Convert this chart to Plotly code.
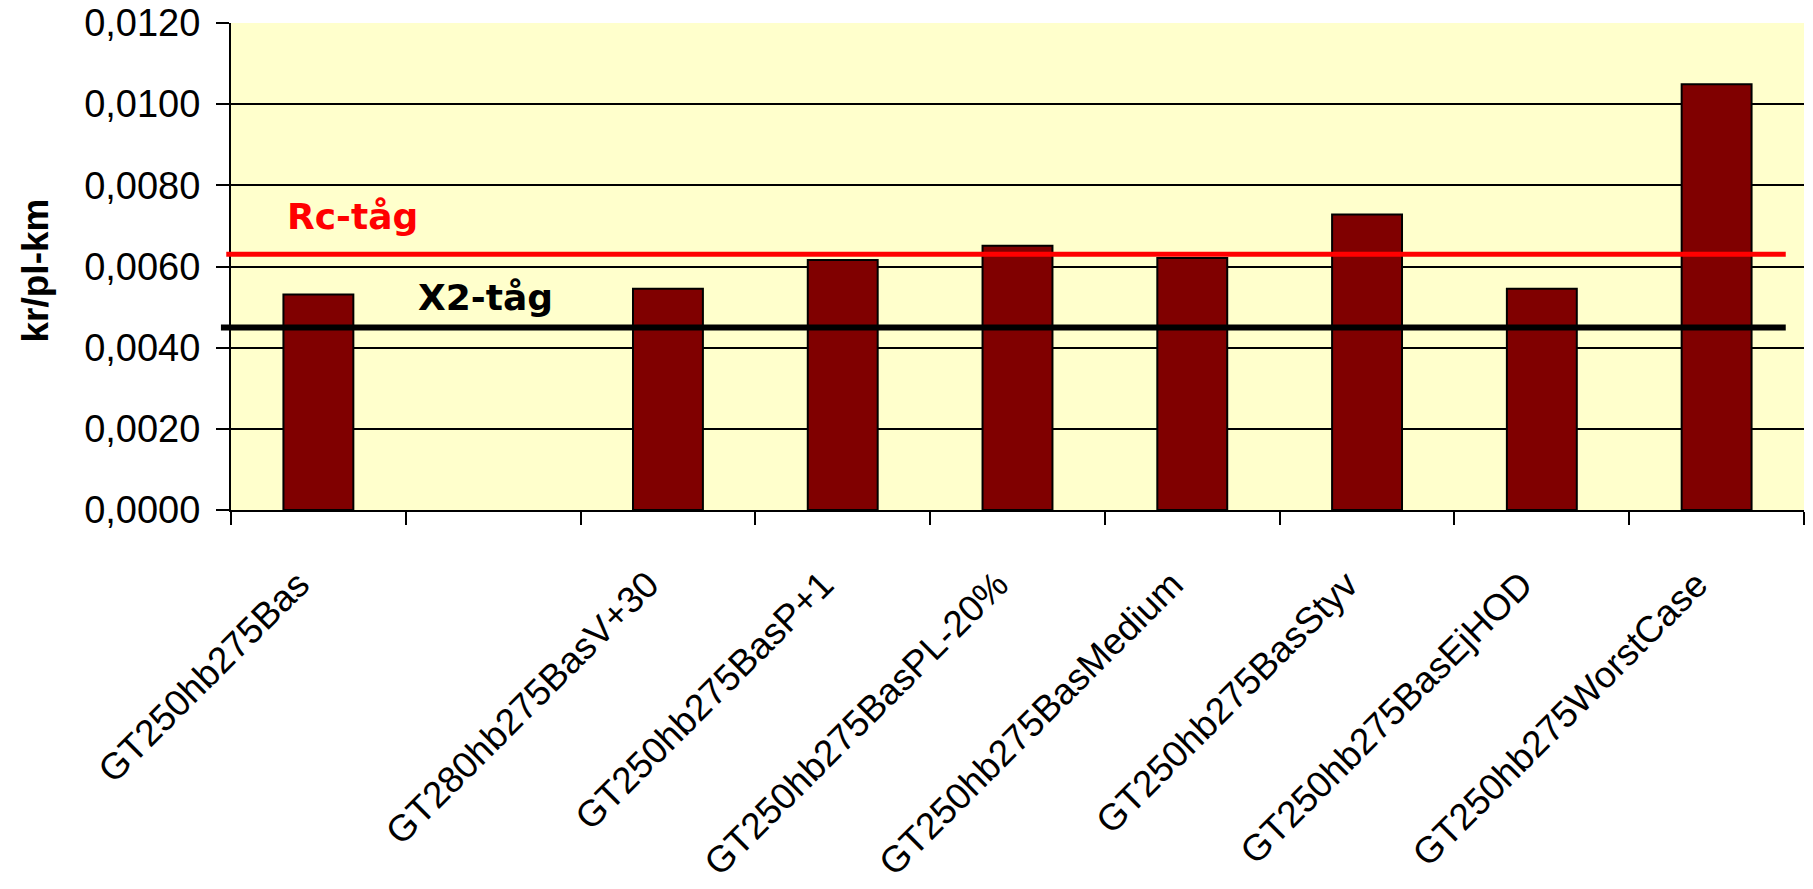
import plotly.graph_objects as go

# Cost per passenger-km for each scenario (the second slot is an empty category)
categories = [
    "GT250hb275Bas",
    " ",
    "GT280hb275BasV+30",
    "GT250hb275BasP+1",
    "GT250hb275BasPL-20%",
    "GT250hb275BasMedium",
    "GT250hb275BasStyv",
    "GT250hb275BasEjHOD",
    "GT250hb275WorstCase",
]
cost_per_pkm = [0.00531, None, 0.00545, 0.00616, 0.00651, 0.00621, 0.00728, 0.00545, 0.01049]

# Reference levels for comparison trains
rc_level = 0.0063
x2_level = 0.0045
rc_label = "Rc-tåg"
x2_label = "X2-tåg"

y_ticks = [0.0, 0.002, 0.004, 0.006, 0.008, 0.010, 0.012]
y_title = "kr/pl-km"

Y_TICK_FONT = dict(family="Liberation Sans, Arial, sans-serif", size=38, color="black")
X_TICK_FONT = dict(family="Liberation Sans, Arial, sans-serif", size=37, color="black")
NOTE_FONT = "DejaVu Sans, Verdana, sans-serif"

fig = go.Figure()
fig.add_trace(
    go.Bar(
        x=categories,
        y=cost_per_pkm,
        marker=dict(color="#800000", line=dict(color="black", width=2)),
        showlegend=False,
    )
)

# Horizontal comparison lines
fig.add_shape(type="line", xref="paper", yref="y", x0=-0.003, x1=0.9884,
              y0=rc_level, y1=rc_level, line=dict(color="#FF0000", width=5))
fig.add_shape(type="line", xref="paper", yref="y", x0=-0.0064, x1=0.9884,
              y0=x2_level, y1=x2_level, line=dict(color="black", width=6))

fig.add_annotation(text="<b>" + rc_label + "</b>", xref="paper", yref="y",
                   x=0.0345, y=0.00724, xanchor="left", yanchor="middle",
                   showarrow=False, font=dict(family=NOTE_FONT, size=36, color="#FF0000"))
fig.add_annotation(text="<b>" + x2_label + "</b>", xref="paper", yref="y",
                   x=0.1178, y=0.00524, xanchor="left", yanchor="middle",
                   showarrow=False, font=dict(family=NOTE_FONT, size=36, color="black"))

# Y axis title
fig.add_annotation(text="<b>" + y_title + "</b>", xref="paper", yref="paper",
                   x=(35 - 230.7) / 1573.3, y=(510 - 270) / 487.3,
                   xanchor="center", yanchor="middle", textangle=-90,
                   showarrow=False,
                   font=dict(family="Liberation Sans, Arial, sans-serif", size=37, color="black"))

fig.update_layout(
    width=1813,
    height=889,
    autosize=False,
    margin=dict(l=231, r=9, t=23, b=379, autoexpand=False),
    paper_bgcolor="white",
    plot_bgcolor="#FFFFCC",
    separators=", ",
    bargap=0.6,
    font=Y_TICK_FONT,
)

fig.update_xaxes(
    type="category",
    categoryorder="array",
    categoryarray=categories,
    tickson="boundaries",
    ticks="outside",
    ticklen=13,
    tickwidth=2,
    tickcolor="black",
    tickangle=-45,
    tickfont=X_TICK_FONT,
    showline=True,
    linecolor="black",
    linewidth=2,
    showgrid=False,
    automargin=False,
    ticklabelstandoff=36,
    ticklabelshift=-20,
)

fig.update_yaxes(
    range=[0, 0.012],
    tickvals=y_ticks,
    tickformat=".4f",
    ticks="outside",
    ticklen=13,
    tickwidth=2,
    tickcolor="black",
    tickfont=Y_TICK_FONT,
    showline=True,
    linecolor="black",
    linewidth=2,
    showgrid=True,
    gridcolor="black",
    gridwidth=2,
    zeroline=False,
    automargin=False,
    ticklabelstandoff=8,
)

fig.write_html("out.html")
